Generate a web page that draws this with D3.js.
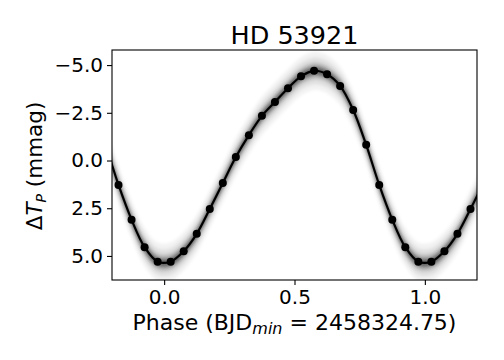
<!DOCTYPE html>
<html>
<head>
<meta charset="utf-8">
<script src="https://cdn.jsdelivr.net/npm/d3@7"></script>
<style>
  html, body { margin: 0; padding: 0; background: #fff; }
  svg { display: block; font-family: "DejaVu Sans", sans-serif; }
</style>
</head>
<body>
<svg id="chart" width="504" height="360"></svg>
<script>
// ---- data ----
const title = "HD 53921";
const binPhase = [0.025, 0.075, 0.125, 0.175, 0.225, 0.275, 0.325, 0.375, 0.425, 0.475,
                  0.525, 0.575, 0.625, 0.675, 0.725, 0.775, 0.825, 0.875, 0.925, 0.975];
const binFlux  = [5.30, 4.75, 3.84, 2.54, 1.18, -0.18, -1.33, -2.34, -3.07, -3.79,
                  -4.41, -4.70, -4.52, -3.91, -2.65, -0.82, 1.28, 3.10, 4.54, 5.30];
const xTicks = [0.0, 0.5, 1.0];
const yTicks = [-5.0, -2.5, 0.0, 2.5, 5.0];
const xDomain = [-0.2, 1.2];
const yDomain = [-5.79, 6.26];

// periodic extension of the binned curve over the plotted phase range
const ext = [];
[-1, 0, 1].forEach(s => binPhase.forEach((p, i) => ext.push({p: p + s, f: binFlux[i]})));
const lineData = ext.filter(d => d.p >= -0.3 && d.p <= 1.3);
const dotData = ext.filter(d => d.p >= xDomain[0] && d.p <= xDomain[1]);

// ---- layout ----
const svg = d3.select("#chart");
const L = 112, R = 477, T = 50, B = 280;
const x = d3.scaleLinear().domain(xDomain).range([L, R]);
const y = d3.scaleLinear().domain(yDomain).range([T, B]);

const defs = svg.append("defs");
defs.append("clipPath").attr("id", "clip")
  .append("rect").attr("x", L).attr("y", T).attr("width", R - L).attr("height", B - T);
defs.append("filter").attr("id", "soft").attr("x", "-10%").attr("y", "-10%").attr("width", "120%").attr("height", "120%")
  .append("feGaussianBlur").attr("stdDeviation", 1.6);

const g = svg.append("g").attr("clip-path", "url(#clip)");

// scatter cloud rendered as soft bands around the curve
const cloud = g.append("g").attr("filter", "url(#soft)");
const bands = [[1.0, 0.05], [0.7, 0.08], [0.45, 0.14], [0.28, 0.25], [0.15, 0.35]];
bands.forEach(([w, op]) => {
  cloud.append("path").datum(lineData)
    .attr("d", d3.area().x(d => x(d.p)).y0(d => y(d.f - w)).y1(d => y(d.f + w))
      .curve(d3.curveCatmullRom))
    .attr("fill", "#000").attr("fill-opacity", op);
});

g.append("path").datum(lineData)
  .attr("d", d3.line().x(d => x(d.p)).y(d => y(d.f)).curve(d3.curveCatmullRom))
  .attr("fill", "none").attr("stroke", "#000").attr("stroke-width", 2.2);

g.selectAll("circle").data(dotData).enter().append("circle")
  .attr("cx", d => x(d.p)).attr("cy", d => y(d.f)).attr("r", 4).attr("fill", "#000");

// ---- axes ----
const fmt = v => d3.format(".1f")(v).replace("-", "\u2212");
const xAxis = svg.append("g").attr("transform", `translate(0,${B})`)
  .call(d3.axisBottom(x).tickValues(xTicks).tickFormat(fmt).tickSize(5).tickPadding(5).tickSizeOuter(0));
const yAxis = svg.append("g").attr("transform", `translate(${L},0)`)
  .call(d3.axisLeft(y).tickValues(yTicks).tickFormat(fmt).tickSize(5).tickPadding(4).tickSizeOuter(0));
[xAxis, yAxis].forEach(a => {
  a.select(".domain").remove();
  a.selectAll("text").attr("font-size", 20).attr("fill", "#000").attr("font-family", "DejaVu Sans");
  a.selectAll("line").attr("stroke", "#000").attr("stroke-width", 1.1);
});

svg.append("rect").attr("x", L).attr("y", T).attr("width", R - L).attr("height", B - T)
  .attr("fill", "none").attr("stroke", "#000").attr("stroke-width", 1.1);

// ---- texts ----
svg.append("text").attr("x", (L + R) / 2).attr("y", 44).attr("text-anchor", "middle")
  .attr("font-size", 25.5).attr("fill", "#000").text(title);

const xl = svg.append("text").attr("x", (L + R) / 2).attr("y", 330).attr("text-anchor", "middle")
  .attr("font-size", 22).attr("fill", "#000");
xl.append("tspan").text("Phase (BJD");
xl.append("tspan").attr("font-style", "italic").attr("font-size", 16).attr("dy", 4).text("min");
xl.append("tspan").attr("dy", -4).text(" = 2458324.75)");

const yl = svg.append("text").attr("transform", `translate(42,${(T + B) / 2 + 1}) rotate(-90)`)
  .attr("text-anchor", "middle").attr("font-size", 21.5).attr("fill", "#000");
yl.append("tspan").text("\u0394");
yl.append("tspan").attr("font-style", "italic").text("T");
yl.append("tspan").attr("font-style", "italic").attr("font-size", 14).attr("dy", 4).text("P");
yl.append("tspan").attr("dy", -4).text(" (mmag)");
</script>
</body>
</html>
